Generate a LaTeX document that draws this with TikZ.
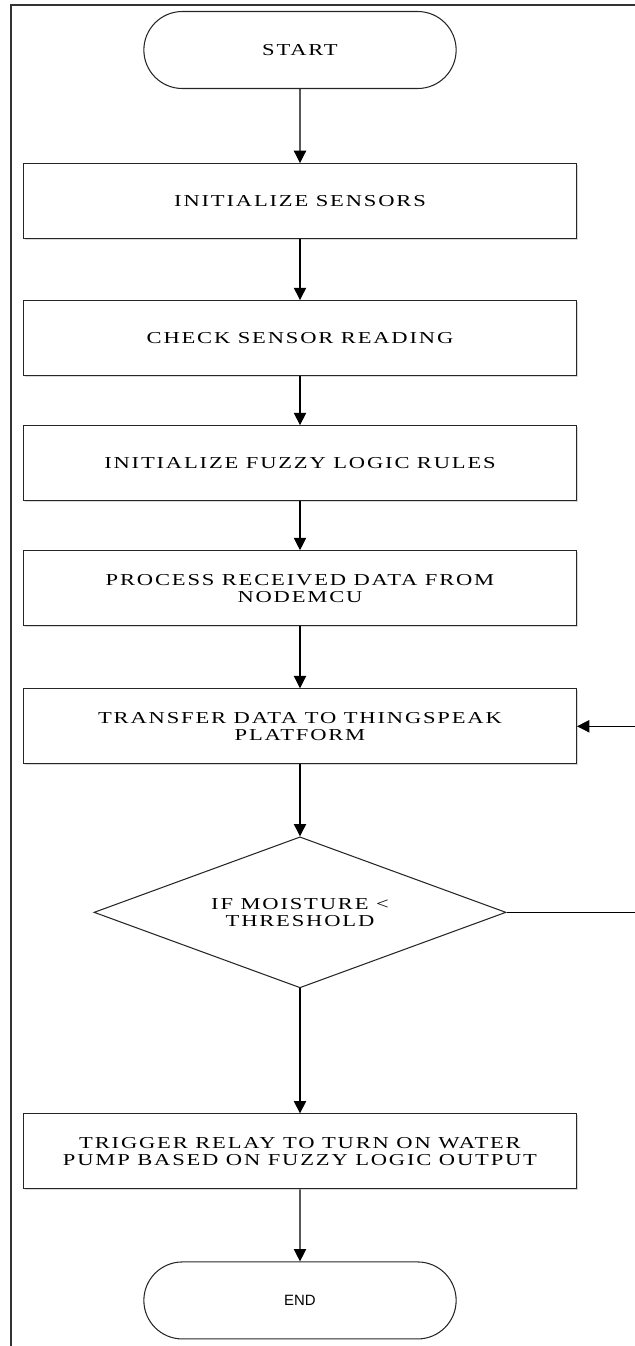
\documentclass[tikz,border=0pt]{standalone}
\usepackage{fontspec}
\setmainfont{Liberation Serif}
\newfontfamily\arialfont{Liberation Sans}
\newcommand\flowfont{\fontsize{9.5}{9.6}\selectfont\addfontfeature{FakeStretch=1.35,LetterSpace=11}}
\usetikzlibrary{positioning,shapes.geometric,shapes.misc,arrows.meta,shadows}

\begin{document}
\begin{tikzpicture}[box/.style={rectangle, draw=black!85, fill=white, minimum width=11.06cm,
        minimum height=1.5cm, align=center, font=\flowfont,
        drop shadow={shadow xshift=0.7pt, shadow yshift=-0.7pt, opacity=0.3}},
    term/.style={rounded rectangle, draw=black!85, minimum width=6.48cm,
        minimum height=1.54cm},
    decision/.style={diamond, draw=black!85, aspect=2.73, minimum width=8.24cm,
        minimum height=3.02cm, inner sep=0pt, align=center, font=\flowfont},
    >={Triangle[length=7pt,width=7pt]}, line width=0.6pt]

    \useasboundingbox (0,0) rectangle (12.7,-26.92);
    % frame of the page
    \draw[black!80, line width=0.9pt] (13,-0.1) -- (0.22,-0.1) -- (0.22,-27.5);

    \node[term, font=\flowfont] (start) at (6,-1.0) {START};
    \node[box] (init) [below=1.48cm of start] {INITIALIZE SENSORS};
    \node[box] (check) [below=1.22cm of init] {CHECK SENSOR READING};
    \node[box] (rules) [below=0.98cm of check] {INITIALIZE FUZZY LOGIC RULES};
    \node[box] (proc) [below=0.98cm of rules] {PROCESS RECEIVED DATA FROM\\NODEMCU};
    \node[box] (send) [below=1.24cm of proc] {TRANSFER DATA TO THINGSPEAK\\PLATFORM};
    \node[decision] (moist) [below=1.44cm of send] {IF MOISTURE <\\THRESHOLD};
    \node[box] (relay) [below=2.5cm of moist] {TRIGGER RELAY TO TURN ON WATER\\PUMP BASED ON FUZZY LOGIC OUTPUT};
    \node[term, font=\arialfont\fontsize{8.5}{10}\selectfont] (stop) [below=1.44cm of relay] {END};

    \draw[->] (start) -- (init);
    \draw[->] (init) -- (check);
    \draw[->] (check) -- (rules);
    \draw[->] (rules) -- (proc);
    \draw[->] (proc) -- (send);
    \draw[->] (send) -- (moist);
    \draw[->] (moist) -- (relay);
    \draw[->] (relay) -- (stop);
    \draw[->] (moist.east) -- ++(3cm,0) |- (send.east);
\end{tikzpicture}
\end{document}
